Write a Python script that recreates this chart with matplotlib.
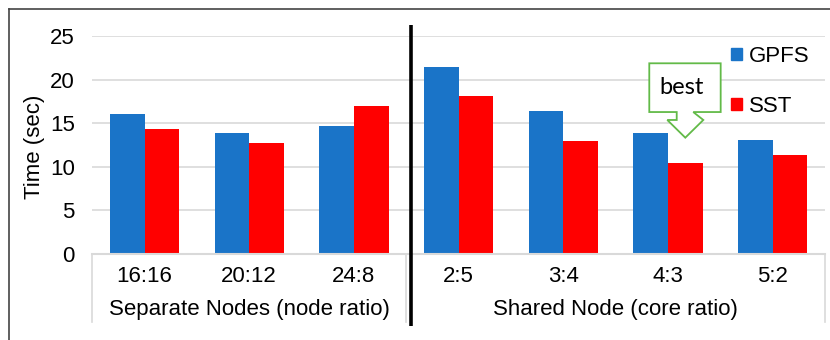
import matplotlib.pyplot as plt
from matplotlib.lines import Line2D
from matplotlib.patches import Patch, Polygon

# data
categories = ["16:16", "20:12", "24:8", "2:5", "3:4", "4:3", "5:2"]
gpfs = [16.06, 13.84, 14.64, 21.41, 16.4, 13.84, 13.04]
sst = [14.33, 12.73, 17.01, 18.12, 12.92, 10.4, 11.32]
groups = ["Separate Nodes (node ratio)", "Shared Node (core ratio)"]
group_sizes = [3, 4]

BLUE = "#1A74C8"
RED = "#FF0000"
GRID = "#D9D9D9"
GREEN = "#62BA48"
FS = 16

plt.rcParams['font.family'] = ['Liberation Sans', 'DejaVu Sans']

W, H = 830, 340
fig = plt.figure(figsize=(W / 100, H / 100), dpi=100)
# axes placed in pixel units
left, right, top, bottom = 92.2, 825.0, 36.0, 254.0
ax = fig.add_axes([left / W, 1 - bottom / H, (right - left) / W, (bottom - top) / H])

bw = 0.331
x = list(range(len(categories)))
ax.bar([i - bw / 2 for i in x], gpfs, bw, color=BLUE, label="GPFS", zorder=2)
ax.bar([i + bw / 2 for i in x], sst, bw, color=RED, label="SST", zorder=2)

ax.set_xlim(-0.5, len(categories) - 0.5)
ax.set_ylim(0, 25)
ax.set_yticks(range(0, 26, 5))
ax.yaxis.grid(True, color=GRID, linewidth=1.2, zorder=0)
ax.set_axisbelow(True)
ax.tick_params(axis='y', length=0, pad=12.5, labelsize=FS)
ax.set_xticks([])
for s in ["top", "right", "left"]:
    ax.spines[s].set_visible(False)
ax.spines["bottom"].set_color(GRID)
ax.spines["bottom"].set_linewidth(1.5)

# multi-level category axis
tr = ax.get_xaxis_transform()
px = 1.0 / (bottom - top)  # one pixel in axes fraction (vertical)
for i, c in enumerate(categories):
    ax.text(i, -22 * px, c, transform=tr, ha="center", va="center", fontsize=FS)
start = 0
seps = [-0.5]
for g, n in zip(groups, group_sizes):
    ax.text(start + (n - 1) / 2, -56 * px, g, transform=tr, ha="center", va="center", fontsize=FS)
    start += n
    seps.append(start - 0.5)
for sx in seps:
    ax.plot([sx, sx], [0, -68 * px], transform=tr, color=GRID, lw=1.2, clip_on=False)

# thick divider between groups
ax.plot([2.545, 2.545], [1 + 11 * px, -72 * px], transform=tr, color="black", lw=2.6,
        clip_on=False, solid_capstyle="butt", zorder=5)

fig.text(34.3 / W, 1 - 146.7 / H, "Time (sec)", rotation=90, ha="center", va="center", fontsize=FS)

# legend
handles = [Patch(color=BLUE, label="GPFS"), Patch(color=RED, label="SST")]
ax.legend(handles=handles, loc="upper left", bbox_to_anchor=(731 / W, 1 - 46 / H),
          bbox_transform=fig.transFigure, frameon=False, fontsize=FS,
          handlelength=0.5, handleheight=0.5, handletextpad=0.3, labelspacing=1.3,
          borderpad=0, borderaxespad=0)

# "best" callout pointing at SST 4:3
best = 5
tx, ty = best + bw / 2, sst[best] + 2.94
dx = [-0.344, 0.338, 0.338, 0.076, 0.172, 0.0, -0.172, -0.082, -0.082, -0.344]
dy = [8.53, 8.53, 2.94, 2.94, 2.03, 0.0, 2.03, 2.03, 2.94, 2.94]
ax.add_patch(Polygon([(tx + a, ty + b) for a, b in zip(dx, dy)], closed=True,
                     facecolor="white", edgecolor=GREEN, lw=1.3, zorder=6))
ax.text(tx - 0.035, ty + 5.75, "best", ha="center", va="center", fontsize=17,
        family=["Lato", "DejaVu Sans"], zorder=7)

# outer frame (left and top edges)
fig.add_artist(Line2D([8.5 / W, 8.5 / W], [0, 1 - 8.5 / H], transform=fig.transFigure,
                      color="#444444", lw=1.2))
fig.add_artist(Line2D([8.5 / W, 1], [1 - 8.5 / H, 1 - 8.5 / H], transform=fig.transFigure,
                      color="#444444", lw=1.2))

fig.savefig("out.png", dpi=100)
